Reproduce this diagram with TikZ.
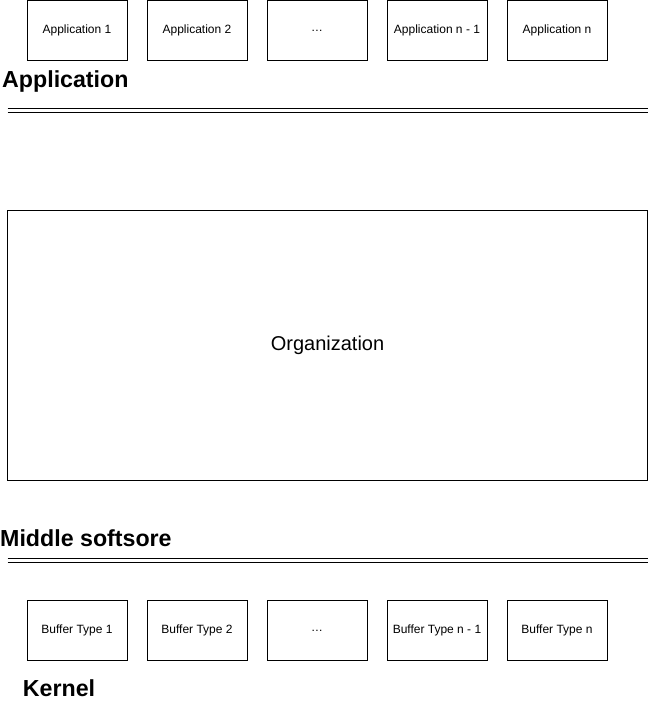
\documentclass[tikz,border=0pt]{standalone}
\usepackage{fontspec}
\setmainfont{Liberation Sans}
\begin{document}
\begin{tikzpicture}[x=1pt,y=-1pt,
  box/.style={draw,line width=1pt,minimum width=100pt,minimum height=60pt,inner sep=0pt,font=\fontsize{12}{14}\selectfont},
  bigbox/.style={draw,line width=1pt,minimum width=640pt,minimum height=270pt,inner sep=0pt,font=\fontsize{20}{24}\selectfont},
  title/.style={font=\fontsize{23.2}{27}\selectfont\bfseries,anchor=base west,inner sep=0pt},
  sep/.style={line width=1pt}]
\useasboundingbox (0,0) rectangle (648,711);
% top row
\node[box] (a1) at (77,30.5) {Application 1};
\node[box] (a2) at (197,30.5) {Application 2};
\node[box] (a3) at (317,30.5) {.\kern0.5pt.\kern0.5pt.};
\node[box] (a4) at (437,30.5) {Application n - 1};
\node[box] (a5) at (557,30.5) {Application n};
\node[title] (tapp) at (2,87.3) {Application};
\draw[sep] (7.5,108.5) -- (647.5,108.5);
\draw[sep] (7.5,112.5) -- (647.5,112.5);
% organization
\node[bigbox] (org) at (327.5,345.5) {Organization};
% middle
\node[title] (tmid) at (0,546.7) {Middle softsore};
\draw[sep] (7.5,558.5) -- (647.5,558.5);
\draw[sep] (7.5,562.5) -- (647.5,562.5);
% bottom row
\node[box] (b1) at (77,630.5) {Buffer Type 1};
\node[box] (b2) at (197,630.5) {Buffer Type 2};
\node[box] (b3) at (317,630.5) {.\kern0.5pt.\kern0.5pt.};
\node[box] (b4) at (437,630.5) {Buffer Type n - 1};
\node[box] (b5) at (557,630.5) {Buffer Type n};
\node[title] (tker) at (22.7,696.7) {Kernel};
\end{tikzpicture}
\end{document}
